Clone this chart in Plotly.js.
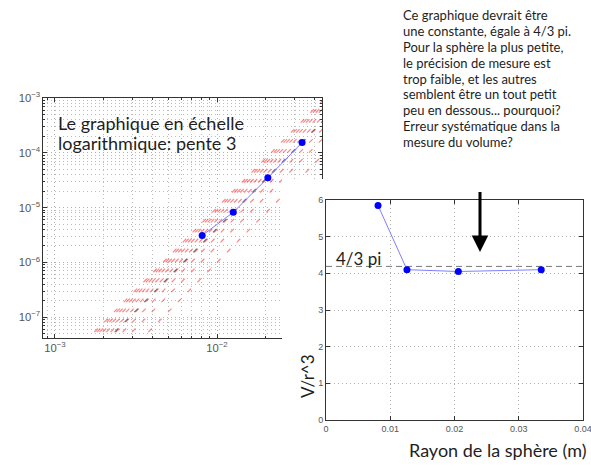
<!DOCTYPE html>
<html><head><meta charset="utf-8">
<script src="https://cdn.plot.ly/plotly-3.0.1.min.js"></script>
<style>html,body{margin:0;padding:0;background:#fff;} #chart{width:591px;height:467px;}</style>
</head><body><div id="chart"></div>
<script>
// ---- data ----
const radius = [0.0081, 0.0126, 0.0206, 0.0335];      // sphere radius (m)
const volume = [3.1e-6, 8.2e-6, 3.5e-5, 1.54e-4];     // measured volume (m^3)
const ratio  = [5.85, 4.1, 4.05, 4.1];                // V / r^3
const bandCoeffs = [1, 2, 3, 4, 5, 6, 7, 8, 9, 10];   // reference lines V = C r^3 (slope 3)
const theoryCoeff = 4 / 3 * Math.PI;                   // 4/3 pi
const bandVolumes = [1e-8, 1e-2];                      // vertical extent of reference lines
const ratioXRange = [0, 0.04];
const ratioXTicks = [0, 0.01, 0.02, 0.03, 0.04];
const ratioXTickText = ["0", "0.01", "0.02", "0.03", "0.04"];
const ratioYTicks = [0, 1, 2, 3, 4, 5, 6];
const logNote = ["Le graphique en échelle", "logarithmique: pente 3"];
const noteLines = [
  "Ce graphique devrait être",
  "une constante, égale à 4/3 pi.",
  "Pour la sphère la plus petite,",
  "le précision de mesure est",
  "trop faible, et les autres",
  "semblent être un tout petit",
  "peu en dessous... pourquoi?",
  "Erreur systématique dans la",
  "mesure du volume?"
];
const theoryLabel = "4/3 pi";
const xTitle = "Rayon de la sphère (m)";
const yTitle = "V/r^3";

// ---- layout helpers ----
const W = 591, H = 467;
const px = v => v / W;
const py = v => 1 - v / H;
const textFont = 'Lato, "Open Sans", sans-serif';
const tickFont = {family: '"Liberation Sans", Arial, sans-serif', size: 9, color: '#555'};

const traces = [];
// left log-log chart
bandCoeffs.forEach(c => {
  traces.push({
    x: bandVolumes.map(v => Math.cbrt(v / c)), y: bandVolumes,
    xaxis: 'x', yaxis: 'y', mode: 'lines', hoverinfo: 'skip', showlegend: false,
    line: {color: 'rgba(255,50,50,0.6)', width: 1.2, dash: '5px,9px'}
  });
});
traces.push({
  x: bandVolumes.map(v => Math.cbrt(v / theoryCoeff)), y: bandVolumes,
  xaxis: 'x', yaxis: 'y', mode: 'lines', hoverinfo: 'skip', showlegend: false,
  line: {color: 'rgba(70,70,70,0.75)', width: 1.2, dash: '5px,9px'}
});
traces.push({
  x: radius, y: volume, xaxis: 'x', yaxis: 'y', mode: 'lines+markers', showlegend: false,
  line: {color: '#7f7fff', width: 1}, marker: {color: '#0000ff', size: 7, symbol: 'circle'}
});
// white cover panel (right figure sheet)
traces.push({x: [], y: [], xaxis: 'x2', yaxis: 'y2', mode: 'markers', showlegend: false, hoverinfo: 'skip'});
// right chart
traces.push({
  x: ratioXRange, y: [theoryCoeff, theoryCoeff], xaxis: 'x3', yaxis: 'y3', mode: 'lines',
  showlegend: false, hoverinfo: 'skip', line: {color: '#777', width: 1, dash: '6px,4px'}
});
traces.push({
  x: radius, y: ratio, xaxis: 'x3', yaxis: 'y3', mode: 'lines+markers', showlegend: false,
  line: {color: '#7f7fff', width: 1}, marker: {color: '#0000ff', size: 7, symbol: 'circle'}
});

const boxAxis = {
  showline: true, linecolor: '#333', linewidth: 1, mirror: 'ticks',
  ticks: 'inside', ticklen: 4, tickcolor: '#333', tickwidth: 1,
  showgrid: true, gridcolor: '#b0b0b0', griddash: '1px,3px', gridwidth: 1,
  zeroline: false, tickfont: tickFont, fixedrange: true, ticklabeloverflow: 'allow'
};
const logMinor = {dtick: 'D1', ticks: 'inside', ticklen: 2, tickcolor: '#333', showgrid: true,
  gridcolor: '#bcbcbc', griddash: '1px,3px', gridwidth: 1};

const annotations = [];
logNote.forEach((t, i) => annotations.push({
  text: t, xref: 'paper', yref: 'paper', x: px(56), y: py(123 + i * 20),
  xanchor: 'left', yanchor: 'middle', showarrow: false,
  font: {family: textFont, size: 18, color: '#1e1e1e'}
}));
noteLines.forEach((t, i) => annotations.push({
  text: t, xref: 'paper', yref: 'paper', x: px(401), y: py(15 + i * 15.9),
  xanchor: 'left', yanchor: 'middle', showarrow: false,
  font: {family: textFont, size: 13, color: '#1e1e1e'}
}));
annotations.push({
  text: theoryLabel, xref: 'paper', yref: 'paper', x: px(334), y: py(258),
  xanchor: 'left', yanchor: 'middle', showarrow: false,
  font: {family: textFont, size: 17, color: '#1e1e1e'}
});
annotations.push({
  text: xTitle, xref: 'paper', yref: 'paper', x: px(497), y: py(450),
  xanchor: 'center', yanchor: 'middle', showarrow: false,
  font: {family: textFont, size: 18, color: '#1e1e1e'}
});
annotations.push({
  text: yTitle, xref: 'paper', yref: 'paper', x: px(307), y: py(376), textangle: -90,
  xanchor: 'center', yanchor: 'middle', showarrow: false,
  font: {family: textFont, size: 17, color: '#1e1e1e'}
});
annotations.push({
  text: ' ', xref: 'paper', yref: 'paper', x: px(480), y: py(252),
  ax: 0, ay: -70, showarrow: true, arrowhead: 2, arrowsize: 1.1, arrowwidth: 3,
  arrowcolor: '#000', standoff: 0
});

const layout = {
  width: W, height: H, margin: {l: 0, r: 0, t: 0, b: 0},
  paper_bgcolor: '#fff', plot_bgcolor: '#fff', showlegend: false,
  xaxis: Object.assign({}, boxAxis, {
    type: 'log', domain: [px(43), px(322)], range: [-3.074, -1.352], anchor: 'y',
    dtick: 1, exponentformat: 'power', minor: logMinor
  }),
  yaxis: Object.assign({}, boxAxis, {
    type: 'log', domain: [py(338), py(98)], range: [-7.38, -3], anchor: 'x',
    dtick: 1, exponentformat: 'power', minor: logMinor
  }),
  xaxis2: {domain: [px(282), 1], anchor: 'y2', visible: false, range: [0, 1], fixedrange: true},
  yaxis2: {domain: [0, py(179)], anchor: 'x2', visible: false, range: [0, 1], fixedrange: true},
  xaxis3: Object.assign({}, boxAxis, {
    domain: [px(326), px(583)], range: ratioXRange, anchor: 'y3',
    tickmode: 'array', tickvals: ratioXTicks, ticktext: ratioXTickText
  }),
  yaxis3: Object.assign({}, boxAxis, {
    domain: [py(420), py(200)], range: [0, 6], anchor: 'x3',
    tickmode: 'array', tickvals: ratioYTicks
  }),
  annotations: annotations
};

Plotly.newPlot('chart', traces, layout, {displayModeBar: false, staticPlot: true});
</script>
</body></html>
